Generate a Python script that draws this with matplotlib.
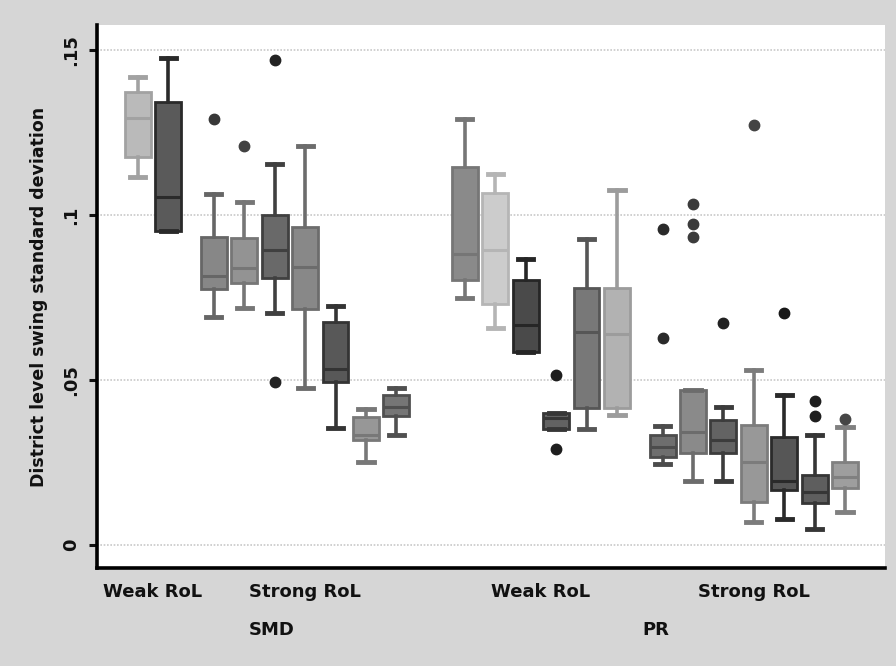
import numpy as np
import matplotlib.pyplot as plt
from matplotlib.colors import to_rgb

groups = ["SMD", "PR"]
subgroups = ["Weak RoL", "Strong RoL"]
counts = [[2, 7], [6, 7]]

# box statistics, left to right
whislo = [0.1115, 0.0952, 0.0691, 0.0718, 0.0704, 0.0475, 0.0354, 0.0253, 0.0333,
          0.0748, 0.0657, 0.0586, 0.0351, 0.0351, 0.0394,
          0.0245, 0.0195, 0.0195, 0.0071, 0.0079, 0.0048, 0.0101]
q1 = [0.1176, 0.0952, 0.0776, 0.0794, 0.0810, 0.0717, 0.0495, 0.0318, 0.0391,
      0.0803, 0.0732, 0.0586, 0.0351, 0.0414, 0.0414,
      0.0268, 0.0278, 0.0278, 0.0131, 0.0167, 0.0126, 0.0172]
med = [0.1295, 0.1056, 0.0815, 0.0839, 0.0894, 0.0843, 0.0535, 0.0335, 0.0419,
       0.0884, 0.0894, 0.0667, 0.0384, 0.0645, 0.0640,
       0.0298, 0.0343, 0.0318, 0.0251, 0.0195, 0.0162, 0.0207]
q3 = [0.1374, 0.1343, 0.0934, 0.0930, 0.1000, 0.0965, 0.0677, 0.0389, 0.0455,
      0.1146, 0.1066, 0.0803, 0.0401, 0.0778, 0.0778,
      0.0335, 0.0470, 0.0379, 0.0364, 0.0328, 0.0212, 0.0252]
whishi = [0.1419, 0.1476, 0.1064, 0.1040, 0.1155, 0.1209, 0.0724, 0.0411, 0.0475,
          0.1293, 0.1124, 0.0866, 0.0401, 0.0929, 0.1076,
          0.0362, 0.0470, 0.0419, 0.0530, 0.0455, 0.0335, 0.0358]
outliers = [[], [], [0.1293], [0.1209], [0.1470, 0.0495], [], [], [], [],
            [], [], [], [0.0515, 0.0291], [], [],
            [0.0628, 0.0957], [0.1035, 0.0973, 0.0934], [0.0672], [0.1273],
            [0.0704], [0.0436, 0.0391], [0.0381]]

fills = ["#bababa", "#5a5a5a", "#878787", "#939393", "#696969", "#888888", "#585858",
         "#979797", "#767676", "#8a8a8a", "#cccccc", "#4a4a4a", "#626262", "#787878",
         "#b2b2b2", "#6e6e6e", "#8a8a8a", "#636363", "#989898", "#565656", "#5e5e5e",
         "#9e9e9e"]
edges = ["#a2a2a2", "#2a2a2a", "#666666", "#767676", "#404040", "#6c6c6c", "#343434",
         "#787878", "#505050", "#767676", "#b5b5b5", "#262626", "#363636", "#565656",
         "#9c9c9c", "#4c4c4c", "#6c6c6c", "#3c3c3c", "#7c7c7c", "#2a2a2a", "#363636",
         "#808080"]

# positions: unit spacing inside a subgroup, wider gaps between subgroups / groups
sub_gap = 1.5
major_gap = 2.25
pos = []
sub_centers = []
grp_centers = []
x = 0.0
for gi, g in enumerate(counts):
    if gi > 0:
        x += major_gap - 1
    gstart = len(pos)
    for si, n in enumerate(g):
        if si > 0:
            x += sub_gap - 1
        s0 = len(pos)
        for k in range(n):
            pos.append(x)
            x += 1
        sub_centers.append(np.mean(pos[s0:]))
    grp_centers.append(np.mean(pos[gstart:]))

stats = []
for i in range(len(med)):
    stats.append(dict(whislo=whislo[i], q1=q1[i], med=med[i], q3=q3[i],
                      whishi=whishi[i], fliers=outliers[i]))


def darker(c, f=0.55):
    return tuple(v * f for v in to_rgb(c))


plt.rcParams['font.family'] = 'DejaVu Sans'

fig = plt.figure(figsize=(8.96, 6.66), dpi=100)
fig.patch.set_facecolor("#d6d6d6")
ax = fig.add_axes([0.108, 0.147, 0.88, 0.815])
ax.set_facecolor("white")

res = ax.bxp(stats, positions=pos, widths=0.85, patch_artist=True,
             capwidths=0.5, showfliers=True)

for i, box in enumerate(res["boxes"]):
    box.set_facecolor(fills[i])
    box.set_edgecolor(edges[i])
    box.set_linewidth(2.0)
for i, m in enumerate(res["medians"]):
    m.set_color(edges[i])
    m.set_linewidth(2.2)
for j, w in enumerate(res["whiskers"]):
    w.set_color(edges[j // 2])
    w.set_linewidth(2.6)
for j, c in enumerate(res["caps"]):
    c.set_color(edges[j // 2])
    c.set_linewidth(3.5)
for i, f in enumerate(res["fliers"]):
    f.set_marker("o")
    f.set_markersize(7.5)
    f.set_markerfacecolor(darker(edges[i]))
    f.set_markeredgecolor(darker(edges[i]))

ax.set_xlim(-1.35, pos[-1] + 1.32)
ax.set_ylim(-0.007, 0.1576)
ax.set_yticks([0, 0.05, 0.1, 0.15])
ax.set_yticklabels(["0", ".05", ".1", ".15"])
ax.yaxis.grid(True, color="#c8c8c8", linewidth=1.2, linestyle=(0, (1, 1)))
ax.set_axisbelow(True)

ax.set_xticks([])
ax.spines["top"].set_visible(False)
ax.spines["right"].set_visible(False)
ax.spines["left"].set_linewidth(2.6)
ax.spines["bottom"].set_linewidth(2.6)
ax.tick_params(axis="y", length=6, width=2.2, pad=6, labelsize=13, colors="#111111")
plt.setp(ax.get_yticklabels(), rotation=90, va="center", fontweight="bold")
ax.set_ylabel("District level swing standard deviation", fontsize=12.5,
              color="#111111", labelpad=10, fontweight="bold")

trans = ax.get_xaxis_transform()
k = 0
for gi, g in enumerate(counts):
    for si in range(len(g)):
        ax.text(sub_centers[k], -0.044, subgroups[si], transform=trans,
                ha="center", va="center", fontsize=13, fontweight="bold",
                color="#111111")
        k += 1
    ax.text(grp_centers[gi], -0.114, groups[gi], transform=trans,
            ha="center", va="center", fontsize=13, fontweight="bold",
            color="#111111")

fig.savefig("out.png", dpi=100, facecolor=fig.get_facecolor())
